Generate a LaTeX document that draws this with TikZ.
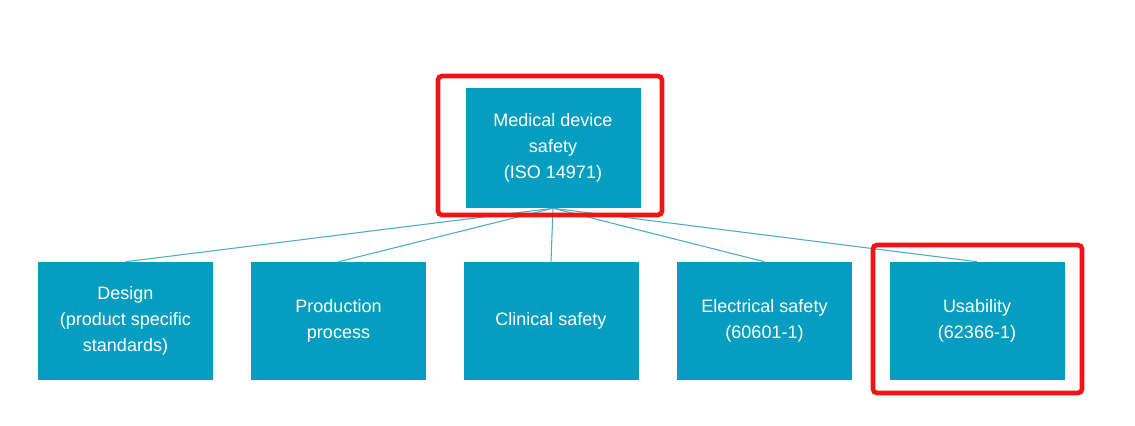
\documentclass[tikz,border=0pt]{standalone}
\usepackage{xcolor}
\usepackage{tikz}
\usepackage{fontspec}
\setmainfont{Liberation Sans}

\definecolor{boxblue}{RGB}{5,158,192}
\definecolor{linkblue}{RGB}{80,170,195}
\definecolor{markred}{RGB}{240,20,20}

\begin{document}
\begin{tikzpicture}[x=0.75pt,y=0.75pt,yscale=-1,xscale=1,
  topic/.style={fill=boxblue,text=white,minimum width=131.25pt,minimum height=88.5pt,
    inner sep=0.75pt,align=center,font=\fontsize{13.5}{19.5}\selectfont},
  link/.style={draw=linkblue,line width=0.8pt},
  highlight/.style={draw=markred,line width=3.5pt,rounded corners=3pt}]
%set diagram size
\path (0,0) rectangle (1135,425);

% Top Node
\node [topic, minimum height=90pt] (safety) at (553,148) {Medical device\\safety\\(ISO 14971)};
% Bottom Nodes
\node [topic] (design) at (125.5,321) {Design\\(product specific\\standards)};
\node [topic] (production) at (338.5,321) {Production\\process};
\node [topic] (clinical) at (551,321) {Clinical safety};
\node [topic] (electrical) at (764.5,321) {Electrical safety\\(60601-1)};
\node [topic] (usability) at (977,321) {Usability\\(62366-1)};

%Straight Lines
\foreach \n in {design,production,clinical,electrical,usability}
  \draw [link] (safety.south) -- (\n.north);

%Shape: Rectangle (highlight)
\draw [highlight] (438,76) rectangle (662,215);
\draw [highlight] (873,245) rectangle (1082,393);

\end{tikzpicture}
\end{document}
